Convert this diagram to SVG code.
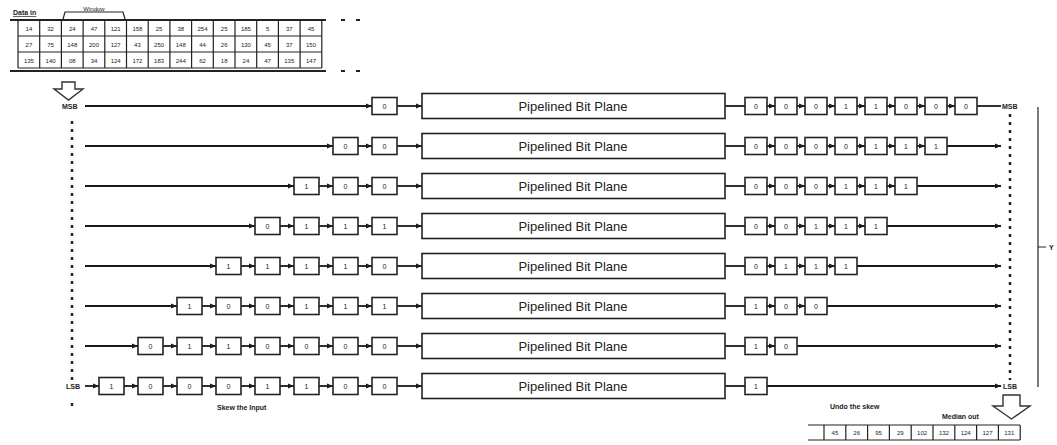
<svg xmlns="http://www.w3.org/2000/svg" width="1057" height="445" viewBox="0 0 1057 445">
<style>
.bg{fill:#fff}
.b{fill:#fff;stroke:#222;stroke-width:1.6}
.p{fill:#fff;stroke:#222;stroke-width:1.6}
.t{font-family:"Liberation Sans",Arial,sans-serif;font-size:7px;fill:#222;text-anchor:middle}
.pt{font-family:"Liberation Sans",Arial,sans-serif;font-size:13px;fill:#222;text-anchor:middle}
.lb{font-family:"Liberation Sans",Arial,sans-serif;font-size:7px;fill:#222;font-weight:bold}
.c{stroke:#1a1a1a;stroke-width:1.8;fill:none}
.ca{stroke:#1a1a1a;stroke-width:1.8;fill:none;marker-end:url(#ah)}
.g{stroke:#222;stroke-width:1.2;fill:none}
.gt{stroke:#222;stroke-width:2;fill:none}
.dot{stroke:#222;stroke-width:2.5;stroke-dasharray:3 5;fill:none}
.ct{font-family:"Liberation Sans",Arial,sans-serif;font-size:6px;fill:#222;text-anchor:middle}
.ar{fill:#fff;stroke:#333;stroke-width:1.4}
</style>
<defs>
<marker id="ah" viewBox="0 0 10 10" refX="10" refY="5" markerWidth="6" markerHeight="6" markerUnits="userSpaceOnUse" orient="auto"><path d="M0,1 L10,5 L0,9 z" fill="#1a1a1a"/></marker>
</defs>
<rect class="bg" x="0" y="0" width="1057" height="445"/>

<g id="input-table">
<text class="lb" x="13" y="15" style="text-decoration:underline">Data in</text>
<path class="g" d="M63,19 L65,12 L123,12 L125,19"/>
<text class="ct" x="94" y="11">Window</text>
<path class="gt" d="M10,20 L326,20 M10,71 L326,71"/>
<path class="gt" d="M341,20 L345,20 M356,20 L360,20 M341,71 L345,71 M356,71 L360,71"/>
<path class="g" d="M18,20 V68 M39.7,20 V68 M61.4,20 V68 M83.1,20 V68 M104.8,20 V68 M126.5,20 V68 M148.2,20 V68 M169.9,20 V68 M191.6,20 V68 M213.3,20 V68 M235,20 V68 M256.7,20 V68 M278.4,20 V68 M300.1,20 V68 M321.8,20 V68 M18,36 H322 M18,52 H322 M18,68 H322"/>
<g>
<text class="ct" x="28.9" y="30.5">14</text><text class="ct" x="50.6" y="30.5">32</text><text class="ct" x="72.3" y="30.5">24</text><text class="ct" x="94" y="30.5">47</text><text class="ct" x="115.7" y="30.5">121</text><text class="ct" x="137.4" y="30.5">158</text><text class="ct" x="159.1" y="30.5">25</text><text class="ct" x="180.8" y="30.5">38</text><text class="ct" x="202.5" y="30.5">254</text><text class="ct" x="224.2" y="30.5">25</text><text class="ct" x="245.9" y="30.5">185</text><text class="ct" x="267.6" y="30.5">5</text><text class="ct" x="289.3" y="30.5">37</text><text class="ct" x="311" y="30.5">45</text>
<text class="ct" x="28.9" y="46.5">27</text><text class="ct" x="50.6" y="46.5">75</text><text class="ct" x="72.3" y="46.5">148</text><text class="ct" x="94" y="46.5">200</text><text class="ct" x="115.7" y="46.5">127</text><text class="ct" x="137.4" y="46.5">43</text><text class="ct" x="159.1" y="46.5">250</text><text class="ct" x="180.8" y="46.5">148</text><text class="ct" x="202.5" y="46.5">44</text><text class="ct" x="224.2" y="46.5">26</text><text class="ct" x="245.9" y="46.5">130</text><text class="ct" x="267.6" y="46.5">45</text><text class="ct" x="289.3" y="46.5">37</text><text class="ct" x="311" y="46.5">150</text>
<text class="ct" x="28.9" y="62.5">135</text><text class="ct" x="50.6" y="62.5">140</text><text class="ct" x="72.3" y="62.5">08</text><text class="ct" x="94" y="62.5">34</text><text class="ct" x="115.7" y="62.5">124</text><text class="ct" x="137.4" y="62.5">172</text><text class="ct" x="159.1" y="62.5">183</text><text class="ct" x="180.8" y="62.5">244</text><text class="ct" x="202.5" y="62.5">62</text><text class="ct" x="224.2" y="62.5">18</text><text class="ct" x="245.9" y="62.5">24</text><text class="ct" x="267.6" y="62.5">47</text><text class="ct" x="289.3" y="62.5">135</text><text class="ct" x="311" y="62.5">147</text>
</g>
</g>

<g id="arrow-in"><path class="ar" d="M62,82 H75 V89 H83 L68.5,100 L54,89 H62 Z"/></g>
<g id="arrow-out"><path class="ar" d="M1003,395 H1020 V406 H1030 L1011.5,419 L993,406 H1003 Z"/></g>

<g id="labels">
<text class="lb" x="62" y="108.5">MSB</text>
<text class="lb" x="66" y="388.5">LSB</text>
<text class="lb" x="1002" y="108.5">MSB</text>
<text class="lb" x="1003" y="388.5">LSB</text>
<text class="lb" x="217" y="410">Skew the Input</text>
<text class="lb" x="830" y="409">Undo the skew</text>
<text class="lb" x="942" y="419">Median out</text>
<text class="lb" x="1049" y="250">Y</text>
</g>

<g id="side-lines">
<line class="dot" x1="72" y1="121" x2="72" y2="380"/>
<line class="dot" x1="72" y1="403" x2="72" y2="406"/>
<line class="dot" x1="1010" y1="114" x2="1010" y2="380"/>
<path class="g" d="M1038,107 V387 M1038,247 H1046"/>
</g>

<g id="connectors">
<!-- row 0 y=106 -->
<line class="ca" x1="85" y1="106" x2="372" y2="106"/>
<line class="ca" x1="397" y1="106" x2="422" y2="106"/>
<line class="c" x1="725" y1="106" x2="745" y2="106"/>
<line class="ca" x1="767" y1="106" x2="775" y2="106"/><line class="ca" x1="797" y1="106" x2="805" y2="106"/><line class="ca" x1="827" y1="106" x2="835" y2="106"/><line class="ca" x1="857" y1="106" x2="865" y2="106"/><line class="ca" x1="887" y1="106" x2="895" y2="106"/><line class="ca" x1="917" y1="106" x2="925" y2="106"/><line class="ca" x1="947" y1="106" x2="955" y2="106"/>
<line class="c" x1="977" y1="106" x2="1001" y2="106"/>
<!-- row 1 y=146 -->
<line class="ca" x1="85" y1="146" x2="333" y2="146"/>
<line class="ca" x1="358" y1="146" x2="372" y2="146"/>
<line class="ca" x1="397" y1="146" x2="422" y2="146"/>
<line class="c" x1="725" y1="146" x2="745" y2="146"/>
<line class="ca" x1="767" y1="146" x2="775" y2="146"/><line class="ca" x1="797" y1="146" x2="805" y2="146"/><line class="ca" x1="827" y1="146" x2="835" y2="146"/><line class="ca" x1="857" y1="146" x2="865" y2="146"/><line class="ca" x1="887" y1="146" x2="895" y2="146"/><line class="ca" x1="917" y1="146" x2="925" y2="146"/>
<line class="ca" x1="947" y1="146" x2="1001" y2="146"/>
<!-- row 2 y=186 -->
<line class="ca" x1="85" y1="186" x2="294" y2="186"/>
<line class="ca" x1="319" y1="186" x2="333" y2="186"/><line class="ca" x1="358" y1="186" x2="372" y2="186"/>
<line class="ca" x1="397" y1="186" x2="422" y2="186"/>
<line class="c" x1="725" y1="186" x2="745" y2="186"/>
<line class="ca" x1="767" y1="186" x2="775" y2="186"/><line class="ca" x1="797" y1="186" x2="805" y2="186"/><line class="ca" x1="827" y1="186" x2="835" y2="186"/><line class="ca" x1="857" y1="186" x2="865" y2="186"/><line class="ca" x1="887" y1="186" x2="895" y2="186"/>
<line class="ca" x1="917" y1="186" x2="1001" y2="186"/>
<!-- row 3 y=226 -->
<line class="ca" x1="85" y1="226" x2="255" y2="226"/>
<line class="ca" x1="280" y1="226" x2="294" y2="226"/><line class="ca" x1="319" y1="226" x2="333" y2="226"/><line class="ca" x1="358" y1="226" x2="372" y2="226"/>
<line class="ca" x1="397" y1="226" x2="422" y2="226"/>
<line class="c" x1="725" y1="226" x2="745" y2="226"/>
<line class="ca" x1="767" y1="226" x2="775" y2="226"/><line class="ca" x1="797" y1="226" x2="805" y2="226"/><line class="ca" x1="827" y1="226" x2="835" y2="226"/><line class="ca" x1="857" y1="226" x2="865" y2="226"/>
<line class="ca" x1="887" y1="226" x2="1001" y2="226"/>
<!-- row 4 y=266 -->
<line class="ca" x1="85" y1="266" x2="216" y2="266"/>
<line class="ca" x1="241" y1="266" x2="255" y2="266"/><line class="ca" x1="280" y1="266" x2="294" y2="266"/><line class="ca" x1="319" y1="266" x2="333" y2="266"/><line class="ca" x1="358" y1="266" x2="372" y2="266"/>
<line class="ca" x1="397" y1="266" x2="422" y2="266"/>
<line class="c" x1="725" y1="266" x2="745" y2="266"/>
<line class="ca" x1="767" y1="266" x2="775" y2="266"/><line class="ca" x1="797" y1="266" x2="805" y2="266"/><line class="ca" x1="827" y1="266" x2="835" y2="266"/>
<line class="ca" x1="857" y1="266" x2="1001" y2="266"/>
<!-- row 5 y=306 -->
<line class="ca" x1="85" y1="306" x2="177" y2="306"/>
<line class="ca" x1="202" y1="306" x2="216" y2="306"/><line class="ca" x1="241" y1="306" x2="255" y2="306"/><line class="ca" x1="280" y1="306" x2="294" y2="306"/><line class="ca" x1="319" y1="306" x2="333" y2="306"/><line class="ca" x1="358" y1="306" x2="372" y2="306"/>
<line class="ca" x1="397" y1="306" x2="422" y2="306"/>
<line class="c" x1="725" y1="306" x2="745" y2="306"/>
<line class="ca" x1="767" y1="306" x2="775" y2="306"/><line class="ca" x1="797" y1="306" x2="805" y2="306"/>
<line class="ca" x1="827" y1="306" x2="1001" y2="306"/>
<!-- row 6 y=346 -->
<line class="ca" x1="85" y1="346" x2="138" y2="346"/>
<line class="ca" x1="163" y1="346" x2="177" y2="346"/><line class="ca" x1="202" y1="346" x2="216" y2="346"/><line class="ca" x1="241" y1="346" x2="255" y2="346"/><line class="ca" x1="280" y1="346" x2="294" y2="346"/><line class="ca" x1="319" y1="346" x2="333" y2="346"/><line class="ca" x1="358" y1="346" x2="372" y2="346"/>
<line class="ca" x1="397" y1="346" x2="422" y2="346"/>
<line class="c" x1="725" y1="346" x2="745" y2="346"/>
<line class="ca" x1="767" y1="346" x2="775" y2="346"/>
<line class="ca" x1="797" y1="346" x2="1001" y2="346"/>
<!-- row 7 y=386 -->
<line class="ca" x1="85" y1="386" x2="99" y2="386"/>
<line class="ca" x1="124" y1="386" x2="138" y2="386"/><line class="ca" x1="163" y1="386" x2="177" y2="386"/><line class="ca" x1="202" y1="386" x2="216" y2="386"/><line class="ca" x1="241" y1="386" x2="255" y2="386"/><line class="ca" x1="280" y1="386" x2="294" y2="386"/><line class="ca" x1="319" y1="386" x2="333" y2="386"/><line class="ca" x1="358" y1="386" x2="372" y2="386"/>
<line class="ca" x1="397" y1="386" x2="422" y2="386"/>
<line class="c" x1="725" y1="386" x2="745" y2="386"/>
<line class="ca" x1="767" y1="386" x2="1001" y2="386"/>
</g>

<g id="plane-0"><rect class="p" x="422" y="93.5" width="303" height="25"/><text class="pt" x="573" y="110.5">Pipelined Bit Plane</text></g>
<g id="plane-1"><rect class="p" x="422" y="133.5" width="303" height="25"/><text class="pt" x="573" y="150.5">Pipelined Bit Plane</text></g>
<g id="plane-2"><rect class="p" x="422" y="173.5" width="303" height="25"/><text class="pt" x="573" y="190.5">Pipelined Bit Plane</text></g>
<g id="plane-3"><rect class="p" x="422" y="213.5" width="303" height="25"/><text class="pt" x="573" y="230.5">Pipelined Bit Plane</text></g>
<g id="plane-4"><rect class="p" x="422" y="253.5" width="303" height="25"/><text class="pt" x="573" y="270.5">Pipelined Bit Plane</text></g>
<g id="plane-5"><rect class="p" x="422" y="293.5" width="303" height="25"/><text class="pt" x="573" y="310.5">Pipelined Bit Plane</text></g>
<g id="plane-6"><rect class="p" x="422" y="333.5" width="303" height="25"/><text class="pt" x="573" y="350.5">Pipelined Bit Plane</text></g>
<g id="plane-7"><rect class="p" x="422" y="373.5" width="303" height="25"/><text class="pt" x="573" y="390.5">Pipelined Bit Plane</text></g>

<g id="skew-in-0">
<rect class="b" x="372" y="97.5" width="25" height="17"/><text class="t" x="384.5" y="108.5">0</text>
</g>
<g id="skew-in-1">
<rect class="b" x="333" y="137.5" width="25" height="17"/><text class="t" x="345.5" y="148.5">0</text>
<rect class="b" x="372" y="137.5" width="25" height="17"/><text class="t" x="384.5" y="148.5">0</text>
</g>
<g id="skew-in-2">
<rect class="b" x="294" y="177.5" width="25" height="17"/><text class="t" x="306.5" y="188.5">1</text>
<rect class="b" x="333" y="177.5" width="25" height="17"/><text class="t" x="345.5" y="188.5">0</text>
<rect class="b" x="372" y="177.5" width="25" height="17"/><text class="t" x="384.5" y="188.5">0</text>
</g>
<g id="skew-in-3">
<rect class="b" x="255" y="217.5" width="25" height="17"/><text class="t" x="267.5" y="228.5">0</text>
<rect class="b" x="294" y="217.5" width="25" height="17"/><text class="t" x="306.5" y="228.5">1</text>
<rect class="b" x="333" y="217.5" width="25" height="17"/><text class="t" x="345.5" y="228.5">1</text>
<rect class="b" x="372" y="217.5" width="25" height="17"/><text class="t" x="384.5" y="228.5">1</text>
</g>
<g id="skew-in-4">
<rect class="b" x="216" y="257.5" width="25" height="17"/><text class="t" x="228.5" y="268.5">1</text>
<rect class="b" x="255" y="257.5" width="25" height="17"/><text class="t" x="267.5" y="268.5">1</text>
<rect class="b" x="294" y="257.5" width="25" height="17"/><text class="t" x="306.5" y="268.5">1</text>
<rect class="b" x="333" y="257.5" width="25" height="17"/><text class="t" x="345.5" y="268.5">1</text>
<rect class="b" x="372" y="257.5" width="25" height="17"/><text class="t" x="384.5" y="268.5">0</text>
</g>
<g id="skew-in-5">
<rect class="b" x="177" y="297.5" width="25" height="17"/><text class="t" x="189.5" y="308.5">1</text>
<rect class="b" x="216" y="297.5" width="25" height="17"/><text class="t" x="228.5" y="308.5">0</text>
<rect class="b" x="255" y="297.5" width="25" height="17"/><text class="t" x="267.5" y="308.5">0</text>
<rect class="b" x="294" y="297.5" width="25" height="17"/><text class="t" x="306.5" y="308.5">1</text>
<rect class="b" x="333" y="297.5" width="25" height="17"/><text class="t" x="345.5" y="308.5">1</text>
<rect class="b" x="372" y="297.5" width="25" height="17"/><text class="t" x="384.5" y="308.5">1</text>
</g>
<g id="skew-in-6">
<rect class="b" x="138" y="337.5" width="25" height="17"/><text class="t" x="150.5" y="348.5">0</text>
<rect class="b" x="177" y="337.5" width="25" height="17"/><text class="t" x="189.5" y="348.5">1</text>
<rect class="b" x="216" y="337.5" width="25" height="17"/><text class="t" x="228.5" y="348.5">1</text>
<rect class="b" x="255" y="337.5" width="25" height="17"/><text class="t" x="267.5" y="348.5">0</text>
<rect class="b" x="294" y="337.5" width="25" height="17"/><text class="t" x="306.5" y="348.5">0</text>
<rect class="b" x="333" y="337.5" width="25" height="17"/><text class="t" x="345.5" y="348.5">0</text>
<rect class="b" x="372" y="337.5" width="25" height="17"/><text class="t" x="384.5" y="348.5">0</text>
</g>
<g id="skew-in-7">
<rect class="b" x="99" y="377.5" width="25" height="17"/><text class="t" x="111.5" y="388.5">1</text>
<rect class="b" x="138" y="377.5" width="25" height="17"/><text class="t" x="150.5" y="388.5">0</text>
<rect class="b" x="177" y="377.5" width="25" height="17"/><text class="t" x="189.5" y="388.5">0</text>
<rect class="b" x="216" y="377.5" width="25" height="17"/><text class="t" x="228.5" y="388.5">0</text>
<rect class="b" x="255" y="377.5" width="25" height="17"/><text class="t" x="267.5" y="388.5">1</text>
<rect class="b" x="294" y="377.5" width="25" height="17"/><text class="t" x="306.5" y="388.5">1</text>
<rect class="b" x="333" y="377.5" width="25" height="17"/><text class="t" x="345.5" y="388.5">0</text>
<rect class="b" x="372" y="377.5" width="25" height="17"/><text class="t" x="384.5" y="388.5">0</text>
</g>

<g id="skew-out-0">
<rect class="b" x="745" y="97.5" width="22" height="17"/><text class="t" x="756" y="108.5">0</text>
<rect class="b" x="775" y="97.5" width="22" height="17"/><text class="t" x="786" y="108.5">0</text>
<rect class="b" x="805" y="97.5" width="22" height="17"/><text class="t" x="816" y="108.5">0</text>
<rect class="b" x="835" y="97.5" width="22" height="17"/><text class="t" x="846" y="108.5">1</text>
<rect class="b" x="865" y="97.5" width="22" height="17"/><text class="t" x="876" y="108.5">1</text>
<rect class="b" x="895" y="97.5" width="22" height="17"/><text class="t" x="906" y="108.5">0</text>
<rect class="b" x="925" y="97.5" width="22" height="17"/><text class="t" x="936" y="108.5">0</text>
<rect class="b" x="955" y="97.5" width="22" height="17"/><text class="t" x="966" y="108.5">0</text>
</g>
<g id="skew-out-1">
<rect class="b" x="745" y="137.5" width="22" height="17"/><text class="t" x="756" y="148.5">0</text>
<rect class="b" x="775" y="137.5" width="22" height="17"/><text class="t" x="786" y="148.5">0</text>
<rect class="b" x="805" y="137.5" width="22" height="17"/><text class="t" x="816" y="148.5">0</text>
<rect class="b" x="835" y="137.5" width="22" height="17"/><text class="t" x="846" y="148.5">0</text>
<rect class="b" x="865" y="137.5" width="22" height="17"/><text class="t" x="876" y="148.5">1</text>
<rect class="b" x="895" y="137.5" width="22" height="17"/><text class="t" x="906" y="148.5">1</text>
<rect class="b" x="925" y="137.5" width="22" height="17"/><text class="t" x="936" y="148.5">1</text>
</g>
<g id="skew-out-2">
<rect class="b" x="745" y="177.5" width="22" height="17"/><text class="t" x="756" y="188.5">0</text>
<rect class="b" x="775" y="177.5" width="22" height="17"/><text class="t" x="786" y="188.5">0</text>
<rect class="b" x="805" y="177.5" width="22" height="17"/><text class="t" x="816" y="188.5">0</text>
<rect class="b" x="835" y="177.5" width="22" height="17"/><text class="t" x="846" y="188.5">1</text>
<rect class="b" x="865" y="177.5" width="22" height="17"/><text class="t" x="876" y="188.5">1</text>
<rect class="b" x="895" y="177.5" width="22" height="17"/><text class="t" x="906" y="188.5">1</text>
</g>
<g id="skew-out-3">
<rect class="b" x="745" y="217.5" width="22" height="17"/><text class="t" x="756" y="228.5">0</text>
<rect class="b" x="775" y="217.5" width="22" height="17"/><text class="t" x="786" y="228.5">0</text>
<rect class="b" x="805" y="217.5" width="22" height="17"/><text class="t" x="816" y="228.5">1</text>
<rect class="b" x="835" y="217.5" width="22" height="17"/><text class="t" x="846" y="228.5">1</text>
<rect class="b" x="865" y="217.5" width="22" height="17"/><text class="t" x="876" y="228.5">1</text>
</g>
<g id="skew-out-4">
<rect class="b" x="745" y="257.5" width="22" height="17"/><text class="t" x="756" y="268.5">0</text>
<rect class="b" x="775" y="257.5" width="22" height="17"/><text class="t" x="786" y="268.5">1</text>
<rect class="b" x="805" y="257.5" width="22" height="17"/><text class="t" x="816" y="268.5">1</text>
<rect class="b" x="835" y="257.5" width="22" height="17"/><text class="t" x="846" y="268.5">1</text>
</g>
<g id="skew-out-5">
<rect class="b" x="745" y="297.5" width="22" height="17"/><text class="t" x="756" y="308.5">1</text>
<rect class="b" x="775" y="297.5" width="22" height="17"/><text class="t" x="786" y="308.5">0</text>
<rect class="b" x="805" y="297.5" width="22" height="17"/><text class="t" x="816" y="308.5">0</text>
</g>
<g id="skew-out-6">
<rect class="b" x="745" y="337.5" width="22" height="17"/><text class="t" x="756" y="348.5">1</text>
<rect class="b" x="775" y="337.5" width="22" height="17"/><text class="t" x="786" y="348.5">0</text>
</g>
<g id="skew-out-7">
<rect class="b" x="745" y="377.5" width="22" height="17"/><text class="t" x="756" y="388.5">1</text>
</g>

<g id="output-table">
<path class="g" d="M808,425 H1020 M808,440 H1020 M824,425 V440 M845.8,425 V440 M867.6,425 V440 M889.4,425 V440 M911.2,425 V440 M933,425 V440 M954.8,425 V440 M976.6,425 V440 M998.4,425 V440 M1020.2,425 V440"/>
<text class="ct" x="834.9" y="434.5">45</text><text class="ct" x="856.7" y="434.5">26</text><text class="ct" x="878.5" y="434.5">95</text><text class="ct" x="900.3" y="434.5">29</text><text class="ct" x="922.1" y="434.5">102</text><text class="ct" x="943.9" y="434.5">132</text><text class="ct" x="965.7" y="434.5">124</text><text class="ct" x="987.5" y="434.5">127</text><text class="ct" x="1009.3" y="434.5">131</text>
</g>
</svg>
